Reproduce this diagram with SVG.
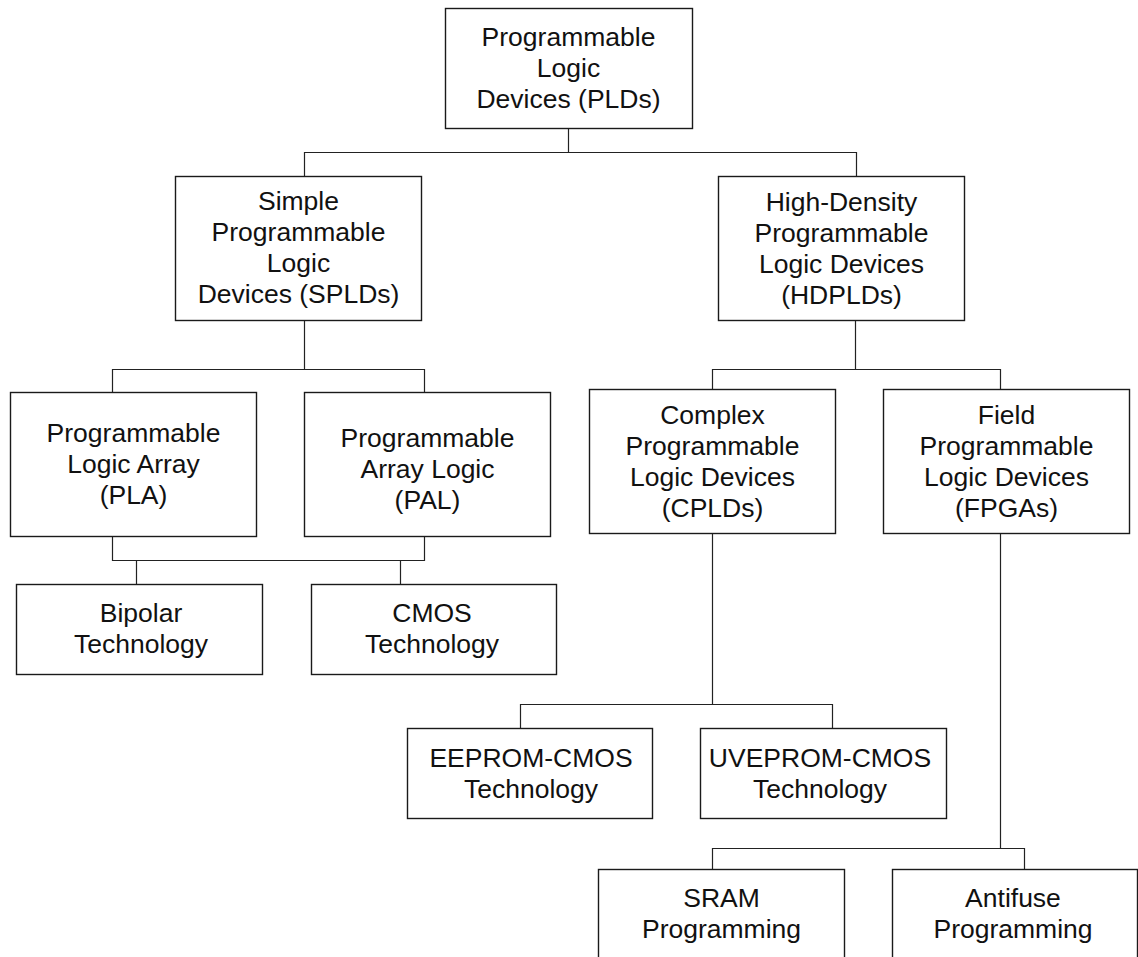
<svg xmlns="http://www.w3.org/2000/svg" width="1138" height="957" viewBox="0 0 1138 957">
<style>
.box{fill:#fff;stroke:#1a1a1a;stroke-width:1.4}
.t{font-family:"Liberation Sans",Arial,sans-serif;font-size:26.5px;fill:#111;text-anchor:middle}
.c{fill:none;stroke:#222;stroke-width:1.2}
</style>
<rect width="1138" height="957" fill="#fff"/>
<g id="connectors">
<path class="c" d="M568.5,128V152.5M304.5,176V152.5H856.5V176"/>
<path class="c" d="M304.5,320V369.5M112.5,392V369.5H424.5V392"/>
<path class="c" d="M112.5,536V560.5H424.5V536M136.5,560.5V584M400.5,560.5V584"/>
<path class="c" d="M855.5,320V369.5M712.5,389V369.5H1000.5V389"/>
<path class="c" d="M712.5,533V704.5M520.5,728V704.5H832.5V728"/>
<path class="c" d="M1000.5,533V848.5M712.5,869V848.5H1024.5V869"/>
</g>
<g id="pld">
<rect class="box" x="445.5" y="8.5" width="247" height="120"/>
<text class="t" x="568.5" y="46">Programmable</text>
<text class="t" x="568.5" y="77">Logic</text>
<text class="t" x="568.5" y="108">Devices (PLDs)</text>
</g>
<g id="spld">
<rect class="box" x="175.5" y="176.5" width="246" height="144"/>
<text class="t" x="298.5" y="210">Simple</text>
<text class="t" x="298.5" y="241">Programmable</text>
<text class="t" x="298.5" y="272">Logic</text>
<text class="t" x="298.5" y="303">Devices (SPLDs)</text>
</g>
<g id="hdpld">
<rect class="box" x="718.5" y="176.5" width="246" height="144"/>
<text class="t" x="841.5" y="211">High-Density</text>
<text class="t" x="841.5" y="242">Programmable</text>
<text class="t" x="841.5" y="273">Logic Devices</text>
<text class="t" x="841.5" y="304">(HDPLDs)</text>
</g>
<g id="pla">
<rect class="box" x="10.5" y="392.5" width="246" height="144"/>
<text class="t" x="133.5" y="442">Programmable</text>
<text class="t" x="133.5" y="473">Logic Array</text>
<text class="t" x="133.5" y="504">(PLA)</text>
</g>
<g id="pal">
<rect class="box" x="304.5" y="392.5" width="246" height="144"/>
<text class="t" x="427.5" y="447">Programmable</text>
<text class="t" x="427.5" y="478">Array Logic</text>
<text class="t" x="427.5" y="509">(PAL)</text>
</g>
<g id="bipolar">
<rect class="box" x="16.5" y="584.5" width="246" height="90"/>
<text class="t" x="141" y="622">Bipolar</text>
<text class="t" x="141" y="653">Technology</text>
</g>
<g id="cmos">
<rect class="box" x="311.5" y="584.5" width="245" height="90"/>
<text class="t" x="432" y="622">CMOS</text>
<text class="t" x="432" y="653">Technology</text>
</g>
<g id="cpld">
<rect class="box" x="589.5" y="389.5" width="246" height="144"/>
<text class="t" x="712.5" y="424">Complex</text>
<text class="t" x="712.5" y="455">Programmable</text>
<text class="t" x="712.5" y="486">Logic Devices</text>
<text class="t" x="712.5" y="517">(CPLDs)</text>
</g>
<g id="fpga">
<rect class="box" x="883.5" y="389.5" width="246" height="144"/>
<text class="t" x="1006.5" y="424">Field</text>
<text class="t" x="1006.5" y="455">Programmable</text>
<text class="t" x="1006.5" y="486">Logic Devices</text>
<text class="t" x="1006.5" y="517">(FPGAs)</text>
</g>
<g id="eeprom">
<rect class="box" x="407.5" y="728.5" width="245" height="90"/>
<text class="t" x="531" y="767">EEPROM-CMOS</text>
<text class="t" x="531" y="798">Technology</text>
</g>
<g id="uveprom">
<rect class="box" x="700.5" y="728.5" width="246" height="90"/>
<text class="t" x="820" y="767">UVEPROM-CMOS</text>
<text class="t" x="820" y="798">Technology</text>
</g>
<g id="sram">
<rect class="box" x="598.5" y="869.5" width="246" height="100"/>
<text class="t" x="721.5" y="907">SRAM</text>
<text class="t" x="721.5" y="938">Programming</text>
</g>
<g id="antifuse">
<rect class="box" x="892.5" y="869.5" width="245" height="100"/>
<text class="t" x="1013" y="907">Antifuse</text>
<text class="t" x="1013" y="938">Programming</text>
</g>
</svg>
